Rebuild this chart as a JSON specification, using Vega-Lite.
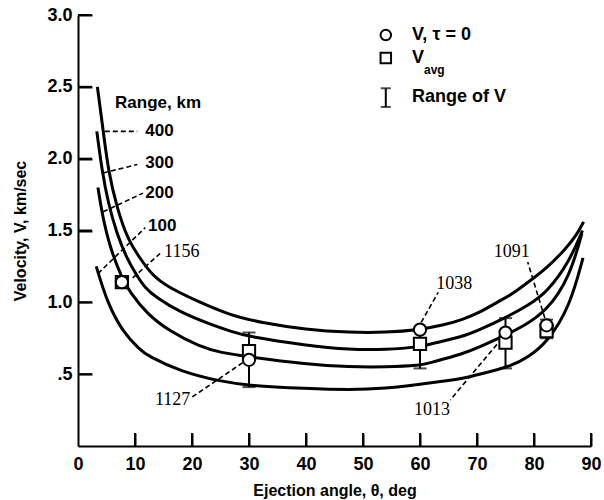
{
  "$schema": "https://vega.github.io/schema/vega-lite/v6.json",
  "width": 513,
  "height": 431,
  "autosize": {"type": "none"},
  "padding": {"left": 78, "top": 15, "right": 13, "bottom": 54},
  "background": "white",
  "config": {
    "view": {"stroke": null},
    "font": "Liberation Sans, Arial, sans-serif",
    "axis": {"grid": false, "domainColor": "black", "domainWidth": 2, "tickColor": "black", "tickWidth": 2, "labelColor": "black", "titleColor": "black", "labelFontSize": 18, "labelFontWeight": "bold", "titleFontSize": 16, "titleFontWeight": "bold"}
  },
  "resolve": {"axis": {"x": "independent", "y": "independent"}},
  "datasets": {
    "curves": [
      {"range": "400", "theta": 3.4, "v": 2.50}, {"range": "400", "theta": 4.4, "v": 2.20}, {"range": "400", "theta": 5.3, "v": 1.92}, {"range": "400", "theta": 6.8, "v": 1.66}, {"range": "400", "theta": 8.8, "v": 1.43}, {"range": "400", "theta": 11, "v": 1.30}, {"range": "400", "theta": 13, "v": 1.19}, {"range": "400", "theta": 15.6, "v": 1.11}, {"range": "400", "theta": 20.8, "v": 1.01}, {"range": "400", "theta": 26.7, "v": 0.91}, {"range": "400", "theta": 32, "v": 0.86}, {"range": "400", "theta": 40, "v": 0.81}, {"range": "400", "theta": 47.7, "v": 0.79}, {"range": "400", "theta": 54, "v": 0.79}, {"range": "400", "theta": 60, "v": 0.81}, {"range": "400", "theta": 64, "v": 0.84}, {"range": "400", "theta": 67.5, "v": 0.88}, {"range": "400", "theta": 70.5, "v": 0.93}, {"range": "400", "theta": 73.5, "v": 1.00}, {"range": "400", "theta": 76.3, "v": 1.06}, {"range": "400", "theta": 79.3, "v": 1.15}, {"range": "400", "theta": 82.3, "v": 1.24}, {"range": "400", "theta": 85.5, "v": 1.37}, {"range": "400", "theta": 87.5, "v": 1.47}, {"range": "400", "theta": 88.7, "v": 1.56},
      {"range": "300", "theta": 3.3, "v": 2.19}, {"range": "300", "theta": 4.2, "v": 1.92}, {"range": "300", "theta": 5.3, "v": 1.69}, {"range": "300", "theta": 6.8, "v": 1.48}, {"range": "300", "theta": 8.5, "v": 1.31}, {"range": "300", "theta": 10.4, "v": 1.18}, {"range": "300", "theta": 11.8, "v": 1.10}, {"range": "300", "theta": 13.5, "v": 1.04}, {"range": "300", "theta": 17.9, "v": 0.93}, {"range": "300", "theta": 23.7, "v": 0.84}, {"range": "300", "theta": 26.7, "v": 0.80}, {"range": "300", "theta": 30, "v": 0.76}, {"range": "300", "theta": 40, "v": 0.70}, {"range": "300", "theta": 47.7, "v": 0.67}, {"range": "300", "theta": 54, "v": 0.67}, {"range": "300", "theta": 60, "v": 0.69}, {"range": "300", "theta": 61.8, "v": 0.71}, {"range": "300", "theta": 67.5, "v": 0.76}, {"range": "300", "theta": 70.5, "v": 0.81}, {"range": "300", "theta": 74.9, "v": 0.89}, {"range": "300", "theta": 79, "v": 0.98}, {"range": "300", "theta": 82.3, "v": 1.07}, {"range": "300", "theta": 86.3, "v": 1.29}, {"range": "300", "theta": 88.5, "v": 1.50},
      {"range": "200", "theta": 3.5, "v": 1.80}, {"range": "200", "theta": 4.2, "v": 1.62}, {"range": "200", "theta": 5.6, "v": 1.38}, {"range": "200", "theta": 7.7, "v": 1.17}, {"range": "200", "theta": 9.1, "v": 1.07}, {"range": "200", "theta": 12.1, "v": 0.92}, {"range": "200", "theta": 16, "v": 0.80}, {"range": "200", "theta": 21.4, "v": 0.69}, {"range": "200", "theta": 25, "v": 0.65}, {"range": "200", "theta": 30, "v": 0.62}, {"range": "200", "theta": 40, "v": 0.57}, {"range": "200", "theta": 47.7, "v": 0.55}, {"range": "200", "theta": 54, "v": 0.55}, {"range": "200", "theta": 60, "v": 0.56}, {"range": "200", "theta": 61.8, "v": 0.58}, {"range": "200", "theta": 67.5, "v": 0.64}, {"range": "200", "theta": 70.5, "v": 0.69}, {"range": "200", "theta": 74.9, "v": 0.77}, {"range": "200", "theta": 78, "v": 0.83}, {"range": "200", "theta": 82.3, "v": 0.94}, {"range": "200", "theta": 86.3, "v": 1.18}, {"range": "200", "theta": 88.4, "v": 1.48},
      {"range": "100", "theta": 3.2, "v": 1.25}, {"range": "100", "theta": 5.1, "v": 1.00}, {"range": "100", "theta": 7.9, "v": 0.79}, {"range": "100", "theta": 10.9, "v": 0.67}, {"range": "100", "theta": 12.1, "v": 0.63}, {"range": "100", "theta": 17.9, "v": 0.52}, {"range": "100", "theta": 24.9, "v": 0.45}, {"range": "100", "theta": 30, "v": 0.42}, {"range": "100", "theta": 40, "v": 0.40}, {"range": "100", "theta": 47.7, "v": 0.39}, {"range": "100", "theta": 54, "v": 0.40}, {"range": "100", "theta": 60, "v": 0.43}, {"range": "100", "theta": 64, "v": 0.45}, {"range": "100", "theta": 67.5, "v": 0.47}, {"range": "100", "theta": 70.5, "v": 0.50}, {"range": "100", "theta": 76.3, "v": 0.56}, {"range": "100", "theta": 79, "v": 0.62}, {"range": "100", "theta": 82.3, "v": 0.72}, {"range": "100", "theta": 86.3, "v": 0.97}, {"range": "100", "theta": 88.6, "v": 1.31}
    ],
    "events": [
      {"event": "1156", "theta": 7.7, "v0": 1.14, "vavg": 1.14, "lo": null, "hi": null},
      {"event": "1127", "theta": 30, "v0": 0.60, "vavg": 0.66, "lo": 0.41, "hi": 0.79},
      {"event": "1038", "theta": 60, "v0": 0.81, "vavg": 0.71, "lo": 0.54, "hi": 0.81},
      {"event": "1013", "theta": 75, "v0": 0.79, "vavg": 0.72, "lo": 0.54, "hi": 0.89},
      {"event": "1091", "theta": 82.2, "v0": 0.84, "vavg": 0.80, "lo": 0.75, "hi": 0.88}
    ],
    "leaders": [
      {"label": "400", "t1": 4.7, "v1": 2.19, "t2": 10.4, "v2": 2.19},
      {"label": "300", "t1": 4.4, "v1": 1.90, "t2": 10.4, "v2": 1.96},
      {"label": "200", "t1": 4.4, "v1": 1.63, "t2": 11.4, "v2": 1.76},
      {"label": "100", "t1": 3.5, "v1": 1.20, "t2": 11.8, "v2": 1.52},
      {"label": "1156", "t1": 9.6, "v1": 1.17, "t2": 14.4, "v2": 1.34},
      {"label": "1127", "t1": 28.9, "v1": 0.58, "t2": 20.0, "v2": 0.34},
      {"label": "1038", "t1": 60.2, "v1": 0.86, "t2": 63.2, "v2": 1.07},
      {"label": "1013", "t1": 74.4, "v1": 0.75, "t2": 65.3, "v2": 0.32},
      {"label": "1091", "t1": 81.9, "v1": 0.89, "t2": 78.9, "v2": 1.28}
    ],
    "xTicks": [{"theta": 10}, {"theta": 20}, {"theta": 30}, {"theta": 40}, {"theta": 50}, {"theta": 60}, {"theta": 70}, {"theta": 80}, {"theta": 90}],
    "yTicks": [{"v": 0.5}, {"v": 1.0}, {"v": 1.5}, {"v": 2.0}, {"v": 2.5}, {"v": 3.0}],
    "rangeLabels": [
      {"text": "Range, km", "theta": 6.5, "v": 2.39},
      {"text": "400", "theta": 11.8, "v": 2.19},
      {"text": "300", "theta": 11.8, "v": 1.97},
      {"text": "200", "theta": 11.8, "v": 1.76},
      {"text": "100", "theta": 12.3, "v": 1.53}
    ],
    "eventLabels": [
      {"text": "1156", "theta": 18.2, "v": 1.35},
      {"text": "1127", "theta": 16.6, "v": 0.32},
      {"text": "1038", "theta": 66.0, "v": 1.13},
      {"text": "1013", "theta": 62.1, "v": 0.25},
      {"text": "1091", "theta": 76.1, "v": 1.35}
    ],
    "legendSymbols": [
      {"item": "V, τ = 0", "shape": "circle", "theta": 54.0, "v": 2.86},
      {"item": "V avg", "shape": "square", "theta": 54.0, "v": 2.70}
    ],
    "legendBar": [
      {"theta": 54.0, "lo": 2.36, "hi": 2.49}
    ],
    "legendText": [
      {"text": "V, τ = 0", "theta": 58.6, "v": 2.86, "kind": "main"},
      {"text": "V", "theta": 58.6, "v": 2.70, "kind": "main"},
      {"text": "Range of  V", "theta": 58.6, "v": 2.43, "kind": "main"},
      {"text": "avg", "theta": 60.7, "v": 2.615, "kind": "sub"}
    ]
  },
  "layer": [
    {
      "data": {"name": "curves"},
      "mark": {"type": "line", "color": "black", "strokeWidth": 3, "interpolate": "basis", "clip": true},
      "encoding": {
        "x": {"field": "theta", "type": "quantitative", "scale": {"domain": [0, 90], "nice": false},
          "axis": {"orient": "bottom", "values": [0, 10, 20, 30, 40, 50, 60, 70, 80, 90], "title": "Ejection angle, θ, deg", "ticks": false, "tickSize": 0, "labelPadding": 9, "titlePadding": 9, "labelFlush": false}},
        "y": {"field": "v", "type": "quantitative", "scale": {"domain": [0, 3], "nice": false},
          "axis": {"orient": "left", "values": [0.5, 1, 1.5, 2, 2.5, 3], "labelExpr": "datum.value == 0.5 ? '.5' : format(datum.value, '.1f')", "title": "Velocity, V, km/sec", "ticks": false, "tickSize": 0, "labelPadding": 6, "titlePadding": 18, "labelFlush": false}},
        "detail": {"field": "range", "type": "nominal"}
      }
    },
    {
      "data": {"name": "leaders"},
      "mark": {"type": "rule", "color": "black", "strokeWidth": 1.6, "strokeDash": [5, 3]},
      "encoding": {
        "x": {"field": "t1", "type": "quantitative",
          "axis": {"orient": "top", "offset": -431, "values": [10, 20, 30, 40, 50, 60, 70, 80, 90], "labels": false, "domain": false, "ticks": true, "tickSize": 13, "title": null}},
        "y": {"field": "v1", "type": "quantitative",
          "axis": {"orient": "right", "offset": -513, "values": [0.5, 1, 1.5, 2, 2.5, 3], "labels": false, "domain": false, "ticks": true, "tickSize": 14, "title": null}},
        "x2": {"field": "t2"},
        "y2": {"field": "v2"}
      }
    },
    {
      "data": {"name": "xTicks"},
      "mark": {"type": "rule", "color": "black", "strokeWidth": 2},
      "encoding": {
        "x": {"field": "theta", "type": "quantitative", "axis": null},
        "y": {"datum": 0, "type": "quantitative", "axis": null},
        "y2": {"datum": 0.09}
      }
    },
    {
      "data": {"name": "yTicks"},
      "mark": {"type": "rule", "color": "black", "strokeWidth": 2},
      "encoding": {
        "y": {"field": "v", "type": "quantitative", "axis": null},
        "x": {"datum": 0, "type": "quantitative", "axis": null},
        "x2": {"datum": 2.45}
      }
    },
    {
      "data": {"name": "events"},
      "transform": [{"filter": "datum.lo != null"}],
      "mark": {"type": "rule", "color": "black", "strokeWidth": 2},
      "encoding": {
        "x": {"field": "theta", "type": "quantitative", "axis": null},
        "y": {"field": "lo", "type": "quantitative", "axis": null},
        "y2": {"field": "hi"}
      }
    },
    {
      "data": {"name": "events"},
      "transform": [{"filter": "datum.lo != null"}],
      "mark": {"type": "tick", "orient": "horizontal", "color": "black", "size": 13, "thickness": 2},
      "encoding": {
        "x": {"field": "theta", "type": "quantitative", "axis": null},
        "y": {"field": "lo", "type": "quantitative", "axis": null}
      }
    },
    {
      "data": {"name": "events"},
      "transform": [{"filter": "datum.lo != null"}],
      "mark": {"type": "tick", "orient": "horizontal", "color": "black", "size": 13, "thickness": 2},
      "encoding": {
        "x": {"field": "theta", "type": "quantitative", "axis": null},
        "y": {"field": "hi", "type": "quantitative", "axis": null}
      }
    },
    {
      "data": {"name": "events"},
      "mark": {"type": "point", "shape": "square", "filled": true, "fill": "white", "stroke": "black", "strokeWidth": 2, "size": 150, "opacity": 1},
      "encoding": {
        "x": {"field": "theta", "type": "quantitative", "axis": null},
        "y": {"field": "vavg", "type": "quantitative", "axis": null}
      }
    },
    {
      "data": {"name": "events"},
      "mark": {"type": "point", "shape": "circle", "filled": true, "fill": "white", "stroke": "black", "strokeWidth": 2, "size": 150, "opacity": 1},
      "encoding": {
        "x": {"field": "theta", "type": "quantitative", "axis": null},
        "y": {"field": "v0", "type": "quantitative", "axis": null}
      }
    },
    {
      "data": {"name": "rangeLabels"},
      "mark": {"type": "text", "align": "left", "baseline": "middle", "fontSize": 17, "fontWeight": "bold", "color": "black"},
      "encoding": {
        "x": {"field": "theta", "type": "quantitative", "axis": null},
        "y": {"field": "v", "type": "quantitative", "axis": null},
        "text": {"field": "text"}
      }
    },
    {
      "data": {"name": "eventLabels"},
      "mark": {"type": "text", "align": "center", "baseline": "middle", "fontSize": 18, "font": "Liberation Serif, serif", "color": "black"},
      "encoding": {
        "x": {"field": "theta", "type": "quantitative", "axis": null},
        "y": {"field": "v", "type": "quantitative", "axis": null},
        "text": {"field": "text"}
      }
    },
    {
      "data": {"name": "legendSymbols"},
      "mark": {"type": "point", "filled": true, "fill": "white", "stroke": "black", "strokeWidth": 2, "size": 110, "opacity": 1},
      "encoding": {
        "x": {"field": "theta", "type": "quantitative", "axis": null},
        "y": {"field": "v", "type": "quantitative", "axis": null},
        "shape": {"field": "shape", "type": "nominal", "scale": null, "legend": null}
      }
    },
    {
      "data": {"name": "legendBar"},
      "mark": {"type": "rule", "color": "black", "strokeWidth": 2},
      "encoding": {
        "x": {"field": "theta", "type": "quantitative", "axis": null},
        "y": {"field": "lo", "type": "quantitative", "axis": null},
        "y2": {"field": "hi"}
      }
    },
    {
      "data": {"name": "legendBar"},
      "mark": {"type": "tick", "orient": "horizontal", "color": "black", "size": 10, "thickness": 2},
      "encoding": {
        "x": {"field": "theta", "type": "quantitative", "axis": null},
        "y": {"field": "lo", "type": "quantitative", "axis": null}
      }
    },
    {
      "data": {"name": "legendBar"},
      "mark": {"type": "tick", "orient": "horizontal", "color": "black", "size": 10, "thickness": 2},
      "encoding": {
        "x": {"field": "theta", "type": "quantitative", "axis": null},
        "y": {"field": "hi", "type": "quantitative", "axis": null}
      }
    },
    {
      "data": {"name": "legendText"},
      "mark": {"type": "text", "align": "left", "baseline": "middle", "fontWeight": "bold", "color": "black"},
      "encoding": {
        "x": {"field": "theta", "type": "quantitative", "axis": null},
        "y": {"field": "v", "type": "quantitative", "axis": null},
        "text": {"field": "text"},
        "size": {"field": "kind", "type": "nominal", "scale": {"domain": ["main", "sub"], "range": [18, 12]}, "legend": null}
      }
    }
  ]
}
